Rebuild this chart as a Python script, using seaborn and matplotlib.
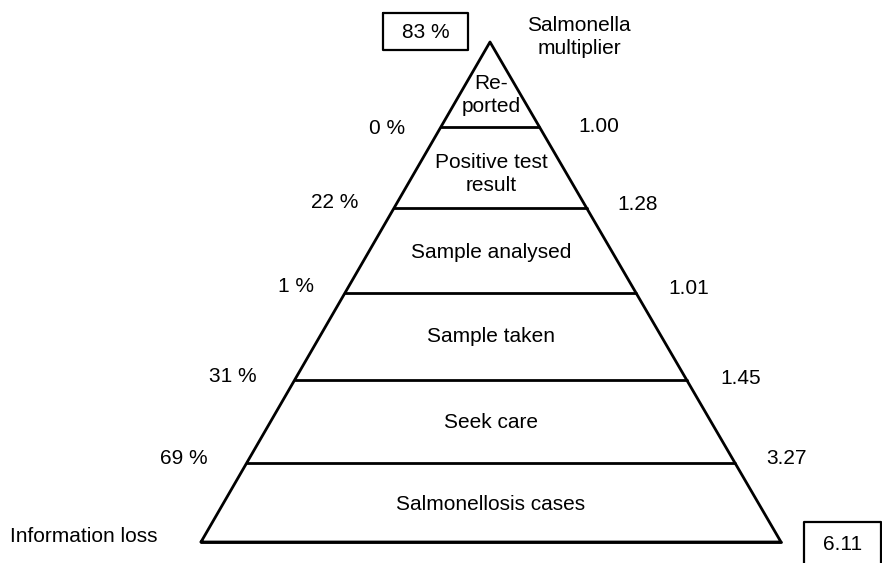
import matplotlib.pyplot as plt
import seaborn as sns
import pandas as pd

# stages of the surveillance pyramid, bottom to top
stages = ['Salmonellosis cases', 'Seek care', 'Sample taken', 'Sample analysed',
          'Positive test\nresult', 'Re-\nported']
# information loss between stages (left side) and multiplier (right side)
info_loss = ['69 %', '31 %', '1 %', '22 %', '0 %']
multiplier = ['3.27', '1.45', '1.01', '1.28', '1.00']
total_loss = '83 %'
total_multiplier = '6.11'

# layer boundaries in pixel space (bottom to apex)
bounds = [542, 463, 380, 293, 208, 127, 42]
apex_x, base_left, base_right = 490, 201, 781
# where the labels sit
stage_y = [505, 422, 337, 253, 174, 95]
loss_pos = [(208, 459), (257, 377), (314, 287), (358, 203), (405, 128)]
mult_pos = [(766, 459), (720, 378), (668, 288), (617, 205), (578, 127)]

sns.set_theme(style='white')
plt.rcParams['font.family'] = ['Liberation Sans', 'DejaVu Sans']

fig = plt.figure(figsize=(8.82, 5.63), dpi=100, facecolor='white')
ax = fig.add_axes([0, 0, 1, 1])
ax.set_xlim(0, 882)
ax.set_ylim(563, 0)
ax.axis('off')

FS = 15


def edge_x(y, side):
    frac = (y - bounds[-1]) / (bounds[0] - bounds[-1])
    base = base_left if side == 'l' else base_right
    return apex_x + (base - apex_x) * frac


# outline of the triangle
tri = pd.DataFrame({'x': [base_left, apex_x, base_right, base_left],
                    'y': [bounds[0], bounds[-1], bounds[0], bounds[0]]})
sns.lineplot(data=tri, x='x', y='y', sort=False, estimator=None, color='black',
             lw=2, ax=ax)
ax.plot([base_left, base_right], [bounds[0], bounds[0]], color='black', lw=2)

# horizontal dividers
for y in bounds[1:-1]:
    ax.plot([edge_x(y, 'l'), edge_x(y, 'r')], [y, y], color='black', lw=2)

# stage labels
for name, y in zip(stages, stage_y):
    ax.text(491, y, name, ha='center', va='center', fontsize=FS, color='black',
            linespacing=1.25)

# loss and multiplier labels at each divider
for lab, (x, y) in zip(info_loss, loss_pos):
    ax.text(x, y, lab, ha='right', va='center', fontsize=FS, color='black')
for lab, (x, y) in zip(multiplier, mult_pos):
    ax.text(x, y, lab, ha='left', va='center', fontsize=FS, color='black')

ax.text(579, 37, 'Salmonella\nmultiplier', ha='center', va='center', fontsize=FS,
        color='black', linespacing=1.3)
ax.text(10, 537, 'Information loss', ha='left', va='center', fontsize=FS, color='black')

# summary boxes
ax.plot([383, 468, 468, 383, 383], [13, 13, 50, 50, 13], color='black', lw=1.6)
ax.text(425.5, 32, total_loss, ha='center', va='center', fontsize=FS, color='black')
ax.plot([804, 804, 881, 881], [570, 522, 522, 570], color='black', lw=1.6)
ax.text(843, 545, total_multiplier, ha='center', va='center', fontsize=FS, color='black')

fig.savefig('out.png', dpi=100, facecolor='white')
